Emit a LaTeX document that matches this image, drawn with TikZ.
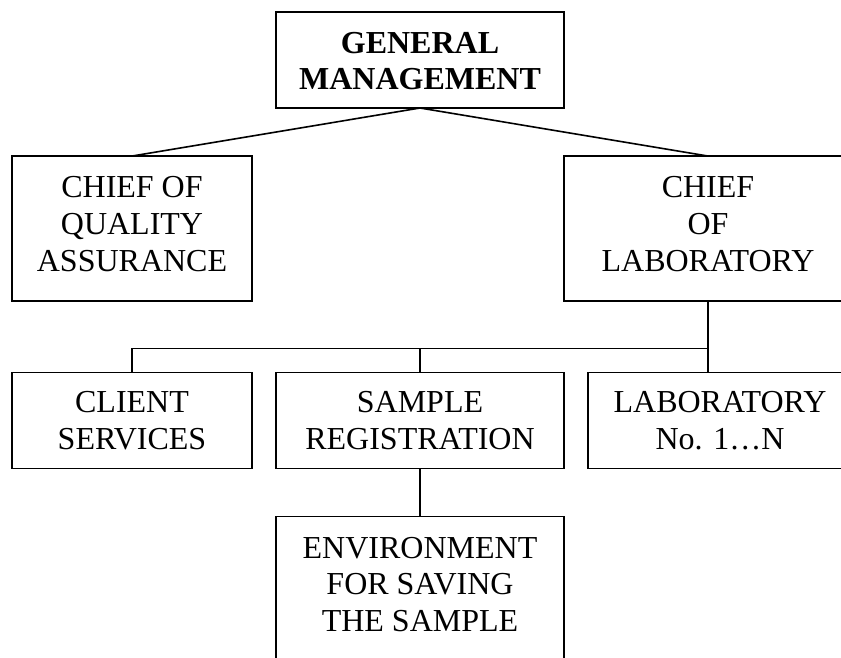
\documentclass[tikz,border=0pt]{standalone}
\usepackage{fontspec}
\setmainfont{Liberation Serif}
\begin{document}
\begin{tikzpicture}[x=1pt,y=1pt,
  box/.style={draw, line width=1.6pt, inner sep=0pt, outer sep=0pt, align=center,
    font=\fontsize{32}{36.8}\selectfont},
  txt/.style={inner sep=0pt, align=center, font=\fontsize{32}{36.8}\selectfont},
  conn/.style={line width=1.6pt}]
\useasboundingbox (0,0) rectangle (841,-657);
\clip (0,0) rectangle (841,-657);
\node[box, minimum width=288, minimum height=96] (gm) at (420,-60) {};
\node[txt] (gmt) at ([yshift=-1]gm.center) {\textbf{GENERAL}\\\textbf{MANAGEMENT}};
\node[box, minimum width=240, minimum height=144.7] (qa) at (132,-228.4) {};
\node[txt] (qat) at ([yshift=4.5]qa.center) {CHIEF OF\\QUALITY\\ASSURANCE};
\node[box, minimum width=288, minimum height=144.7] (lab) at (708,-228.4) {};
\node[txt] (labt) at ([yshift=4.5]lab.center) {CHIEF\\OF\\LABORATORY};
\node[box, minimum width=240, minimum height=96] (cs) at (132,-420.3) {CLIENT\\SERVICES};
\node[box, minimum width=288, minimum height=96] (sr) at (420,-420.3) {SAMPLE\\REGISTRATION};
\node[box, minimum width=264, minimum height=96] (ln) at (720,-420.3) {LABORATORY\\No. 1…N};
\node[box, minimum width=288, minimum height=144.7] (env) at (420,-589) {};
\node[txt] (envt) at ([yshift=4.5]env.center) {ENVIRONMENT\\FOR SAVING\\THE SAMPLE};
\coordinate (bar) at (708,-348.3);
\draw[conn] (qa.north) -- (gm.south) -- (lab.north);
\draw[conn] (lab.south) -- (bar);
\draw[conn] (bar) -- (bar -| cs.north) -- (cs.north);
\draw[conn] (sr.north |- bar) -- (sr.north);
\draw[conn] (bar) -- (lab.south |- ln.north);
\draw[conn] (sr.south) -- (env.north);
\end{tikzpicture}
\end{document}
